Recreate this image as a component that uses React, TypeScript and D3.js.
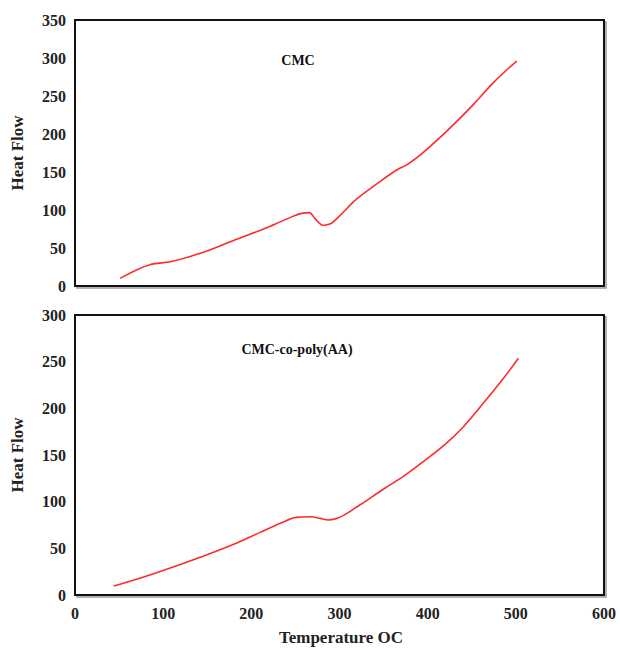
import React, { useEffect, useRef } from 'react';
import * as d3 from 'd3';

// CMC curve (temperature °C, heat flow)
const cmcTemp = [51, 85, 108, 142, 180, 216, 240, 257, 266, 272, 281, 289, 299, 316, 342, 367, 374, 391, 406, 429, 452, 474, 501];
const cmcHeat = [10, 28, 32, 43, 60, 76, 88, 95.6, 96.5, 89, 80, 81.6, 91, 111, 134, 154, 158, 172, 187, 212, 239, 267, 296];

// CMC-co-poly(AA) curve
const copTemp = [44, 70, 104, 142, 180, 210, 233, 251, 267, 278, 287, 297, 323, 350, 372, 395, 422, 437, 463, 486, 503];
const copHeat = [9.6, 16.8, 27.5, 40.4, 54.3, 67.1, 76.8, 83.2, 83.9, 82.1, 80.4, 82.1, 96.4, 113.6, 126.8, 142.8, 163.2, 176.8, 205.4, 232.2, 253.6];

const xTicks = [0, 100, 200, 300, 400, 500, 600];
const topYTicks = [0, 50, 100, 150, 200, 250, 300, 350];
const bottomYTicks = [0, 50, 100, 150, 200, 250, 300];

const App = () => {
    const ref = useRef(null);

    useEffect(() => {
        const svg = d3.select(ref.current);
        svg.selectAll('*').remove();

        const font = '"Liberation Serif", "Times New Roman", serif';
        const left = 75, right = 604;
        const x = d3.scaleLinear().domain([0, 600]).range([left, right]);

        const panels = [
            { temp: cmcTemp, heat: cmcHeat, ticks: topYTicks, max: 350, top: 20, bottom: 286, title: 'CMC', titleX: 298, titleY: 65, showX: false },
            { temp: copTemp, heat: copHeat, ticks: bottomYTicks, max: 300, top: 315, bottom: 595, title: 'CMC-co-poly(AA)', titleX: 297, titleY: 354, showX: true },
        ];

        panels.forEach(p => {
            const y = d3.scaleLinear().domain([0, p.max]).range([p.bottom, p.top]);
            const g = svg.append('g');

            // drop shadow on right/bottom edges, then frame
            g.append('rect')
                .attr('x', left + 2).attr('y', p.top + 2)
                .attr('width', right - left).attr('height', p.bottom - p.top)
                .attr('fill', 'none').attr('stroke', '#999').attr('stroke-width', 1.5);
            g.append('rect')
                .attr('x', left).attr('y', p.top)
                .attr('width', right - left).attr('height', p.bottom - p.top)
                .attr('fill', '#fff').attr('stroke', '#111').attr('stroke-width', 2);

            g.selectAll('.ytick').data(p.ticks).join('text')
                .attr('class', 'ytick')
                .attr('x', 66).attr('y', d => y(d))
                .attr('dy', '0.35em')
                .attr('text-anchor', 'end')
                .attr('font-family', font).attr('font-weight', 'bold').attr('font-size', 16)
                .attr('fill', '#222')
                .text(d => d);

            if (p.showX) {
                g.selectAll('.xtick').data(xTicks).join('text')
                    .attr('class', 'xtick')
                    .attr('x', d => x(d)).attr('y', p.bottom + 24)
                    .attr('text-anchor', 'middle')
                    .attr('font-family', font).attr('font-weight', 'bold').attr('font-size', 16)
                    .attr('fill', '#222')
                    .text(d => d);
            }

            const mid = (p.top + p.bottom) / 2;
            g.append('text')
                .attr('transform', `translate(23,${mid}) rotate(-90)`)
                .attr('text-anchor', 'middle')
                .attr('font-family', font).attr('font-weight', 'bold').attr('font-size', 17)
                .attr('fill', '#222')
                .text('Heat Flow');

            g.append('text')
                .attr('x', p.titleX).attr('y', p.titleY)
                .attr('text-anchor', 'middle')
                .attr('font-family', font).attr('font-weight', 'bold').attr('font-size', 14)
                .attr('fill', '#111')
                .text(p.title);

            const pts = p.temp.map((t, i) => [t, p.heat[i]]);
            const line = d3.line()
                .x(d => x(d[0]))
                .y(d => y(d[1]))
                .curve(d3.curveMonotoneX);
            g.append('path')
                .datum(pts)
                .attr('d', line)
                .attr('fill', 'none')
                .attr('stroke', '#ff2a2a')
                .attr('stroke-width', 1.6);
        });

        svg.append('text')
            .attr('x', 341).attr('y', 643)
            .attr('text-anchor', 'middle')
            .attr('font-family', font).attr('font-weight', 'bold').attr('font-size', 17)
            .attr('fill', '#222')
            .text('Temperature OC');
    }, []);

    return (
        <svg ref={ref} width={620} height={649}
            style={{ position: 'absolute', left: 0, top: 0, background: '#fff' }} />
    );
};

export default App;
